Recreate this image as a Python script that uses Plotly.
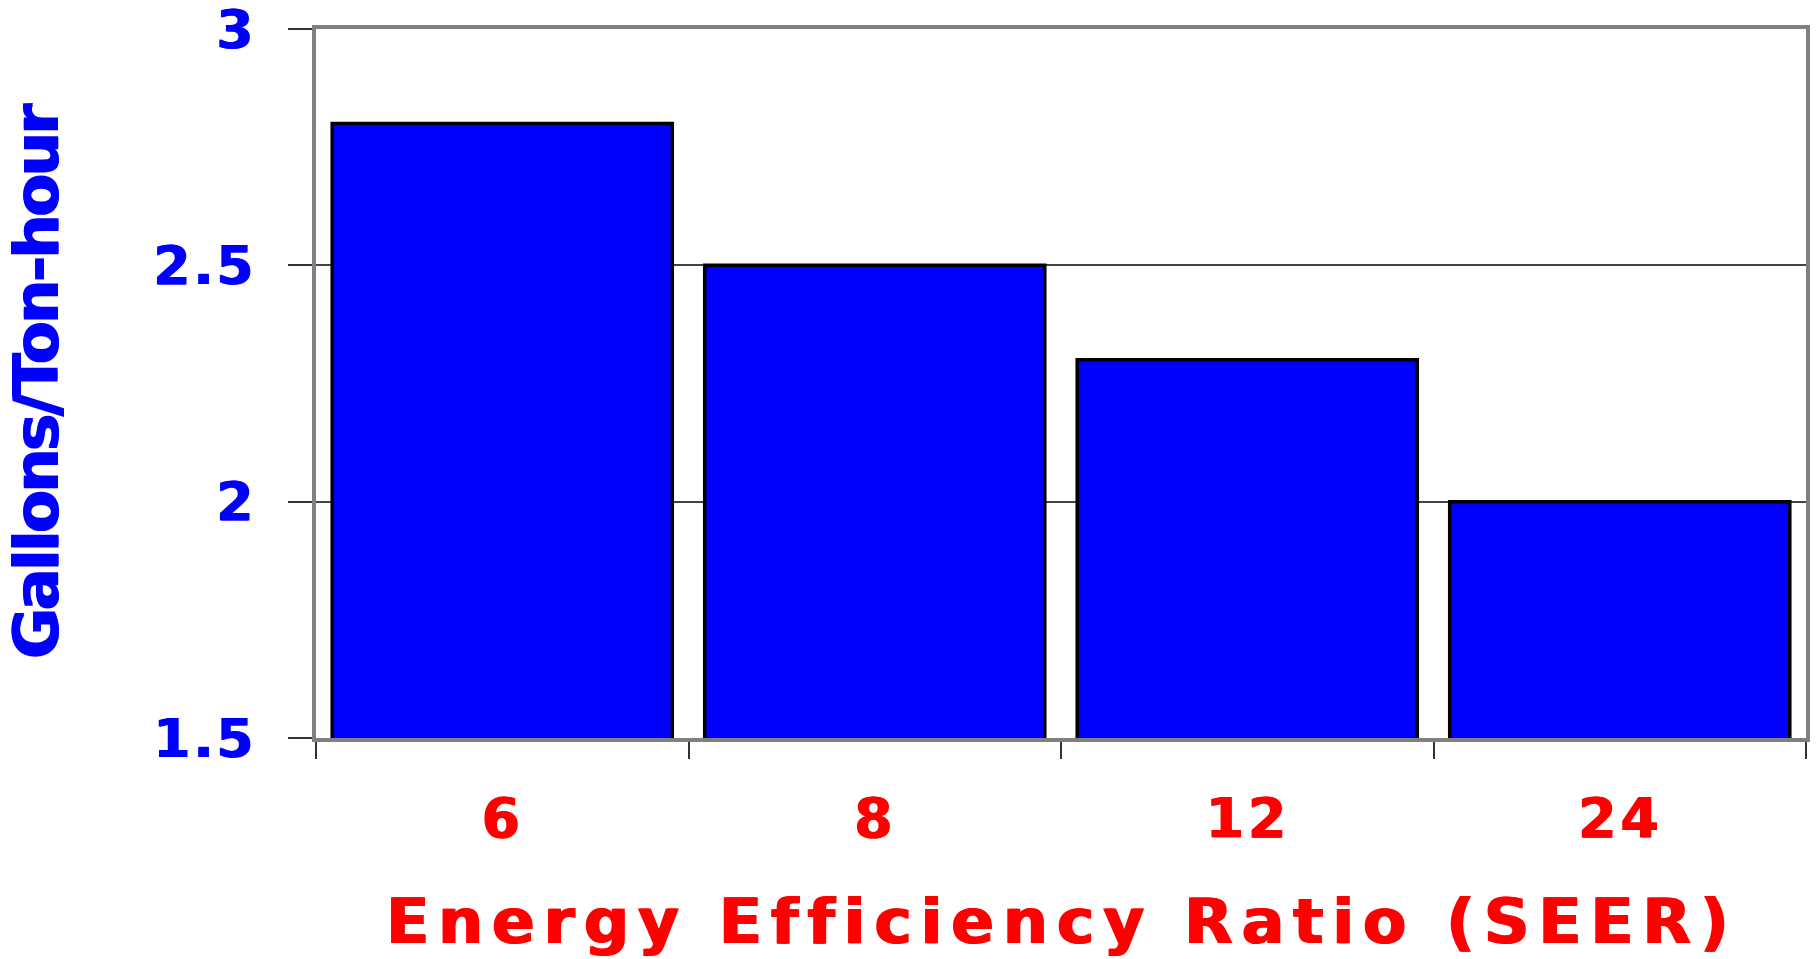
import plotly.graph_objects as go

# SEER rating vs. water use
categories = ["6", "8", "12", "24"]
gallons_per_ton_hour = [2.8, 2.5, 2.3, 2.0]
y_ticks = [1.5, 2, 2.5, 3]
y_tick_labels = ["1.5", "2", "2.5", "3"]

BLUE = "#0000FF"
RED = "#FF0000"
FONT = "DejaVu Sans"


def spaced(text, px):
    return f'<span style="letter-spacing:{px}px">{text}</span>'


def heavy(color, px=1.5):
    # thicken the glyph stems slightly with a same-colour offset shadow
    return f"{px}px 0px 0px {color}"


fig = go.Figure(
    go.Bar(
        x=categories,
        y=gallons_per_ton_hour,
        marker=dict(color=BLUE, line=dict(color="#000000", width=3.5)),
        hoverinfo="x+y",
    )
)

fig.update_layout(
    width=1820,
    height=959,
    margin=dict(l=316, r=14, t=29, b=221),
    paper_bgcolor="white",
    plot_bgcolor="white",
    bargap=0.087,
    showlegend=False,
)

fig.update_xaxes(
    type="category",
    tickmode="array",
    tickvals=categories,
    ticktext=[spaced(c, 4) for c in categories],
    tickson="boundaries",
    ticks="outside",
    ticklen=17,
    tickwidth=1.5,
    tickcolor="#333333",
    ticklabelstandoff=29,
    tickfont=dict(family=FONT, size=55, color=RED, weight="bold", shadow=heavy(RED)),
    showgrid=False,
    showline=True,
    linecolor="#808080",
    linewidth=3.5,
    mirror=True,
    title=dict(
        text=spaced("Energy Efficiency Ratio (SEER)", 9),
        font=dict(family=FONT, size=63, color=RED, weight="bold", shadow=heavy(RED, 2)),
        standoff=51,
    ),
    automargin=False,
)

fig.update_yaxes(
    range=[1.5, 3],
    tickmode="array",
    tickvals=y_ticks,
    ticktext=[spaced(t, 3) for t in y_tick_labels],
    ticks="outside",
    ticklen=24,
    tickwidth=1.5,
    tickcolor="#333333",
    ticklabelstandoff=22,
    ticklabeloverflow="allow",
    tickfont=dict(family=FONT, size=53, color=BLUE, weight="bold", shadow=heavy(BLUE)),
    showgrid=True,
    gridcolor="#444444",
    gridwidth=1.5,
    showline=True,
    linecolor="#808080",
    linewidth=3.5,
    mirror=True,
    zeroline=False,
    title=dict(
        text=spaced("Gallons/Ton-hour", -2.3),
        font=dict(family=FONT, size=62, color=BLUE, weight="bold", shadow=heavy(BLUE, 2)),
        standoff=82,
    ),
    automargin=False,
)

fig.write_html("out.html")
